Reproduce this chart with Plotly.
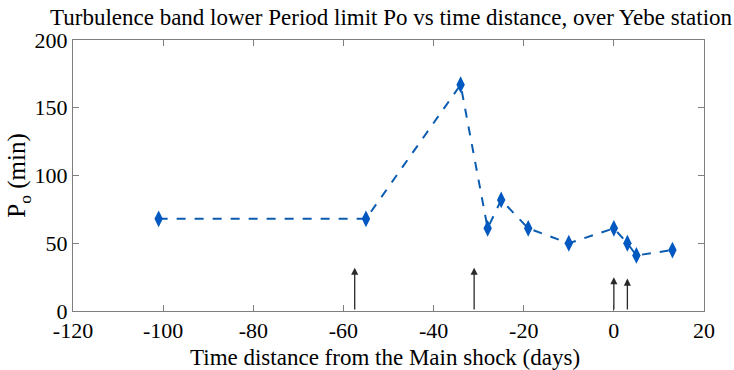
import plotly.graph_objects as go

# Lower period limit Po of the turbulence band, Yebe station
days = [-101, -55, -34, -28, -25, -19, -10, 0, 3, 5, 13]
po_min = [68, 68, 167, 61, 82, 61, 50, 61, 50, 41, 45]

# Event markers (arrows) along the time axis
event_days = [-57.5, -31, 0, 3]
event_tops = [32, 32, 25, 24]

x_ticks = [-120, -100, -80, -60, -40, -20, 0, 20]
x_labels = ["-120", "-100", "-80", "-60", "-40", "-20", "0", "20"]
y_ticks = [0, 50, 100, 150, 200]

FONT = "Liberation Serif"
AXIS_GRAY = "#7f7f7f"

fig = go.Figure()
fig.add_trace(go.Scatter(
    x=days, y=po_min,
    mode="lines+markers",
    line=dict(color="#0a5cb0", width=2, dash="dash"),
    marker=dict(symbol="diamond-tall", size=12, color="#0058c0",
                line=dict(width=0)),
    showlegend=False,
))

for d, top in zip(event_days, event_tops):
    fig.add_annotation(
        x=d, y=top, ax=d, ay=0,
        xref="x", yref="y", axref="x", ayref="y",
        text="", showarrow=True,
        arrowhead=2, arrowsize=1.1, arrowwidth=1.3,
        arrowcolor="#2a2a2a",
    )

# x-axis caption, set slightly left of the plot centre
fig.add_annotation(
    text="Time distance from the Main shock (days)",
    xref="paper", yref="paper", x=0.495, y=-0.17,
    xanchor="center", yanchor="middle", showarrow=False,
    font=dict(family=FONT, size=23, color="black"),
)

axis_common = dict(
    showline=True, linecolor=AXIS_GRAY, linewidth=1, mirror="ticks",
    ticks="inside", ticklen=6, tickcolor=AXIS_GRAY, tickwidth=1,
    showgrid=False, zeroline=False,
    tickfont=dict(family=FONT, size=22, color="black"),
)

fig.update_layout(
    width=734, height=370,
    margin=dict(l=73, r=30, t=40, b=59),
    paper_bgcolor="white", plot_bgcolor="white",
    title=dict(
        text="Turbulence band lower Period limit Po vs time distance, over Yebe station",
        font=dict(family=FONT, size=23, color="black"),
        x=50 / 734, xanchor="left", y=0.955, yanchor="middle",
        xref="container",
    ),
    xaxis=dict(
        range=[-120, 20], tickvals=x_ticks, ticktext=x_labels,
        ticklabelstandoff=0,
        **axis_common,
    ),
    yaxis=dict(
        range=[0, 200], tickvals=y_ticks,
        title=dict(text="P<sub>o</sub> (min)",
                   font=dict(family=FONT, size=25, color="black"),
                   standoff=0),
        **axis_common,
    ),
)

fig.write_html("out.html")
